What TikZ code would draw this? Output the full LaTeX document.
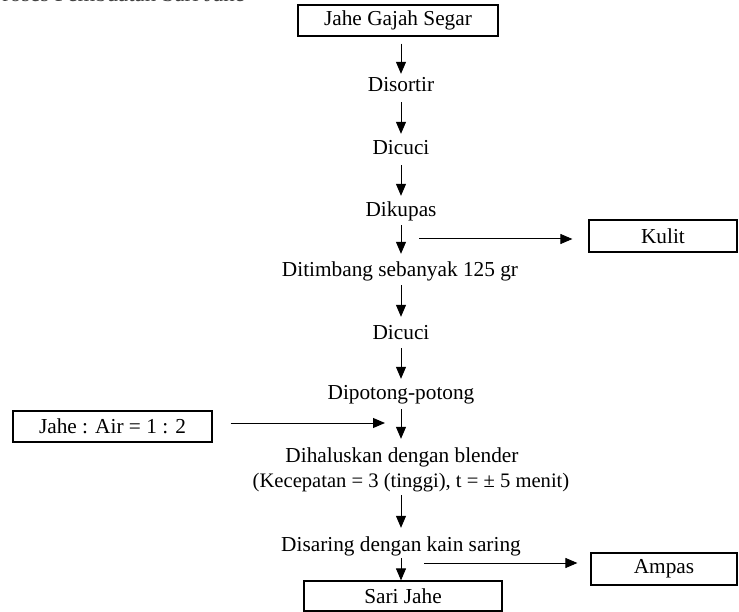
\documentclass[tikz,border=0pt]{standalone}
\usepackage{fontspec}
\setmainfont{Liberation Serif}
\usetikzlibrary{arrows.meta}
\begin{document}
\begin{tikzpicture}[x=1pt,y=-1pt,
  txt/.style={inner sep=0pt, text height=14pt, text depth=5pt, font=\fontsize{21.3}{24}\selectfont},
  boxed/.style={draw, line width=1.2pt, inner sep=0pt, font=\fontsize{21.3}{24}\selectfont},
  flow/.style={line width=1pt, -{Triangle[length=12pt,width=10pt]}},
  side/.style={line width=1pt, -{Triangle[length=12pt,width=10pt]}}]
\useasboundingbox (0,0) rectangle (739,612);
\fill[white] (0,0) rectangle (739,612);
% clipped title
\node[anchor=base east, inner sep=0pt, font=\fontsize{22.8}{26}\selectfont, text=black!75] (title) at (245,2) {Proses Pembuatan Sari Jahe};
% main column
\node[boxed, minimum width=200pt, minimum height=31pt] (top) at (398,20.5) {Jahe Gajah Segar};
\node[txt] (d1) at (401,87) {Disortir};
\node[txt] (d2) at (401,150) {Dicuci};
\node[txt] (d3) at (401,212) {Dikupas};
\node[txt] (d4) at (400,272) {Ditimbang sebanyak 125 gr};
\node[txt] (d5) at (401,335) {Dicuci};
\node[txt] (d6) at (401,395) {Dipotong-potong};
\node[txt] (d7) at (402,458) {Dihaluskan dengan blender};
\node[txt, font=\fontsize{20.6}{24}\selectfont] (d7b) at (411,483) {(Kecepatan = 3 (tinggi), t = ± 5 menit)};
\node[txt] (d8) at (401,547) {Disaring dengan kain saring};
\node[boxed, minimum width=198pt, minimum height=30pt] (sari) at (403,596) {Sari Jahe};
% side boxes
\node[boxed, minimum width=148pt, minimum height=32pt] (kulit) at (663,236) {Kulit};
\node[boxed, minimum width=199pt, minimum height=31pt] (ja) at (112.5,426.5) {Jahe : Air = 1 : 2};
\node[boxed, minimum width=146pt, minimum height=32pt] (ampas) at (664,569) {Ampas};
% vertical arrows
\draw[flow, shorten <=7pt, shorten >=3.5pt] (top.south -| d1.north) -- (d1.north);
\draw[flow, shorten <=5.5pt, shorten >=6.5pt] (d1.south) -- (d2.north);
\draw[flow, shorten <=5.5pt, shorten >=6.5pt] (d2.south) -- (d3.north);
\draw[flow, shorten <=3.5pt, shorten >=8.5pt] (d3.south) -- (d4.north -| d3.south);
\draw[flow, shorten <=3.5pt, shorten >=8.5pt] (d4.south -| d5.north) -- (d5.north);
\draw[flow, shorten <=3.5pt, shorten >=6.5pt] (d5.south) -- (d6.north);
\draw[flow, shorten <=4.5pt, shorten >=9.5pt] (d6.south) -- (d7.north -| d6.south);
\draw[flow, shorten <=2.5pt, shorten >=9.5pt] (d7b.south -| d8.north) -- (d8.north);
\draw[flow, shorten <=1.5pt, shorten >=0pt] (d8.south) -- (sari.north -| d8.south);
% side arrows
\coordinate (k0) at (419,239);
\draw[side, shorten >=16pt] (k0) -- (kulit.west |- k0);
\coordinate (j1) at (385,423);
\draw[side, shorten <=18pt] (ja.east |- j1) -- (j1);
\coordinate (a0) at (424,563);
\draw[side, shorten >=13pt] (a0) -- (ampas.west |- a0);
\end{tikzpicture}
\end{document}
